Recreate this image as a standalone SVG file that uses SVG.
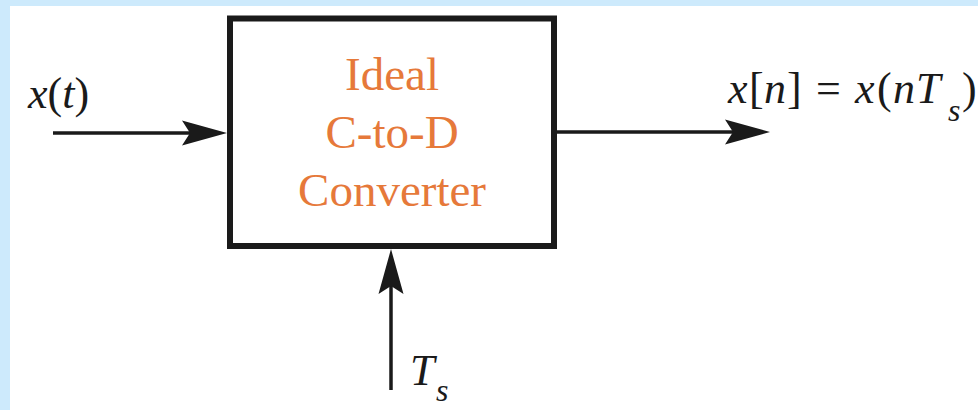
<svg xmlns="http://www.w3.org/2000/svg" width="978" height="410" viewBox="0 0 978 410">
  <style>
    text { font-family: "Liberation Serif", "Times New Roman", serif; }
    .math { font-style: italic; font-size: 44px; fill: #1a1a1a; }
    .up { font-style: normal; }
    .sub { font-size: 32px; }
    .label { font-size: 47px; fill: #E6793A; text-anchor: middle; }
    .wire { stroke: #1a1a1a; stroke-width: 3.5; fill: none; marker-end: url(#arrow); }
  </style>
  <defs>
    <marker id="arrow" viewBox="0 -13 46 26" markerWidth="46" markerHeight="26" refX="15" refY="0" orient="auto" markerUnits="userSpaceOnUse">
      <path d="M45,0 L0,-12.5 L8,0 L0,12.5 Z" fill="#1a1a1a"/>
    </marker>
  </defs>
  <rect x="0" y="0" width="978" height="410" fill="#ffffff"/>
  <rect x="0" y="0" width="978" height="6" fill="#CDEAFC"/>
  <rect x="0" y="0" width="10" height="410" fill="#CDEAFC"/>

  <g id="converter">
    <rect x="230" y="18.5" width="324" height="227.5" fill="#ffffff" stroke="#1a1a1a" stroke-width="6"/>
    <text class="label" x="392" y="90">Ideal</text>
    <text class="label" x="392" y="148">C-to-D</text>
    <text class="label" x="392" y="206">Converter</text>
  </g>

  <g id="input-label">
    <text class="math" x="28" y="108">x<tspan class="up">(</tspan>t<tspan class="up">)</tspan></text>
  </g>

  <g id="output-label">
    <text class="math" y="103"><tspan x="728">x</tspan><tspan class="up" x="749">[</tspan><tspan x="764">n</tspan><tspan class="up" x="787">]</tspan><tspan class="up" x="816">=</tspan><tspan x="855">x</tspan><tspan class="up" x="877">(</tspan><tspan x="893">n</tspan><tspan x="916">T</tspan><tspan class="sub" x="948" dy="18">s</tspan><tspan class="up" x="962" dy="-18">)</tspan></text>
  </g>

  <g id="sample-label">
    <text class="math" y="385"><tspan x="410">T</tspan><tspan class="sub" x="436" dy="16">s</tspan></text>
  </g>

  <g id="connectors">
    <line class="wire" x1="53" y1="133" x2="197" y2="133"/>
    <line class="wire" x1="554" y1="132" x2="740" y2="132"/>
    <line class="wire" x1="391" y1="390" x2="391" y2="279"/>
  </g>
</svg>
